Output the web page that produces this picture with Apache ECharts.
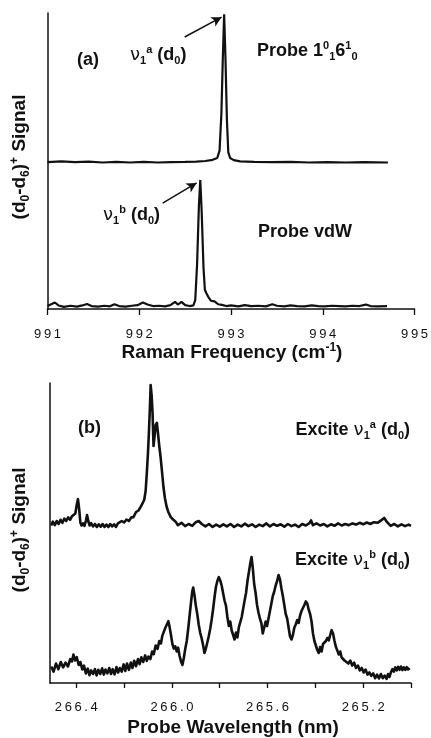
<!DOCTYPE html>
<html><head><meta charset="utf-8">
<script src="https://cdn.jsdelivr.net/npm/echarts@6/dist/echarts.min.js"></script>
<style>html,body{margin:0;padding:0;background:#fff}#c{width:431px;height:738px}</style>
</head><body><div id="c"></div>
<script>
// ---------- Panel (a): Raman frequency (cm-1) vs signal ----------
const ramanFreqA = [991.00,991.15,991.30,991.45,991.60,991.75,991.90,992.05,992.20,992.35,992.50,992.62,992.72,992.80,992.85,992.875,992.895,992.91,992.925,992.94,992.955,992.97,992.99,993.03,993.10,993.25,993.45,993.65,993.85,994.05,994.25,994.45,994.71];
const signalA    = [49.6,49.9,49.6,49.8,49.5,49.7,49.5,49.7,49.5,49.6,49.7,49.8,50.0,50.4,51.0,53.5,66,84,99.6,84,64,53,51,50.3,49.9,49.7,49.6,49.7,49.5,49.6,49.5,49.6,49.5];

const ramanFreqB = [991.00,991.04,991.08,991.12,991.18,991.25,991.32,991.38,991.43,991.48,991.55,991.62,991.68,991.73,991.78,991.85,991.92,991.98,992.04,992.09,992.15,992.22,992.28,992.34,992.39,992.42,992.46,992.50,992.55,992.59,992.61,992.63,992.65,992.665,992.68,992.70,992.715,992.73,992.75,992.78,992.82,992.86,992.90,992.95,993.00,993.08,993.15,993.22,993.30,993.38,993.45,993.50,993.58,993.65,993.72,993.80,993.88,993.95,994.02,994.10,994.18,994.25,994.32,994.40,994.47,994.52,994.60,994.70];
const signalB    = [1.0,1.6,2.2,1.2,0.7,1.1,0.8,1.2,1.7,1.0,0.8,1.1,0.9,1.6,1.0,0.8,1.1,1.3,2.2,1.5,1.0,1.1,0.9,1.3,2.4,1.5,2.4,1.3,1.0,1.2,3,15,35,43.6,33,14,6.5,5.4,4.2,2.8,2.6,1.6,1.4,1.0,1.2,0.9,1.3,1.0,1.1,0.9,1.6,1.1,0.9,1.2,1.0,0.9,1.2,1.0,0.9,1.1,1.0,0.9,1.1,1.0,1.5,1.0,0.9,1.0];

const ramanTicks = [991, 992, 993, 994, 995];

// ---------- Panel (b): probe wavelength (nm) vs signal ----------
const wavelengthA = [266.505,266.498,266.490,266.482,266.474,266.466,266.458,266.450,266.442,266.434,266.426,266.418,266.410,266.404,266.398,266.393,266.388,266.383,266.378,266.372,266.366,266.360,266.355,266.350,266.344,266.338,266.330,266.322,266.314,266.306,266.298,266.290,266.282,266.274,266.266,266.258,266.250,266.242,266.234,266.226,266.218,266.210,266.200,266.190,266.180,266.170,266.161,266.150,266.140,266.130,266.123,266.116,266.110,266.105,266.100,266.096,266.092,266.089,266.085,266.081,266.077,266.073,266.068,266.063,266.058,266.053,266.047,266.041,266.035,266.029,266.022,266.015,266.005,265.995,265.984,265.975,265.960,265.945,265.930,265.915,265.900,265.888,265.875,265.860,265.845,265.830,265.815,265.800,265.785,265.770,265.755,265.740,265.725,265.710,265.695,265.680,265.665,265.650,265.635,265.620,265.605,265.590,265.575,265.560,265.545,265.530,265.515,265.500,265.485,265.470,265.455,265.440,265.425,265.418,265.410,265.395,265.380,265.365,265.350,265.335,265.320,265.305,265.290,265.275,265.260,265.245,265.230,265.215,265.200,265.185,265.170,265.155,265.140,265.125,265.112,265.100,265.085,265.070,265.055,265.040,265.025,265.010,265.000];
const exciteA     = [52.5,53.8,52.6,54.0,53.0,54.4,53.4,54.8,54.0,55.2,54.4,55.6,55.0,56.5,59.5,61.3,58.0,53.5,52.5,53.2,52.4,54.0,56.0,54.0,52.5,53.3,52.2,53.0,52.0,52.9,52.1,53.0,52.0,52.8,52.0,53.0,52.2,52.9,52.0,53.2,52.6,54.0,53.5,54.5,54.0,55.2,55.3,57.0,57.5,58.8,59.3,61.0,64.0,70.0,77.0,84.0,92.0,99.3,96.0,90.0,79.0,82.0,86.0,86.7,83.0,79.0,75.0,70.0,65.0,61.5,58.7,57.0,55.3,54.5,53.7,52.6,53.4,52.3,53.0,52.4,53.6,54.0,53.0,52.2,53.0,52.0,52.8,52.1,52.9,52.2,53.0,52.0,52.8,52.2,53.1,52.3,52.9,52.0,52.8,52.3,53.2,52.2,53.0,52.4,52.9,52.1,53.0,52.3,52.8,52.0,53.0,52.5,53.3,54.2,52.6,53.2,52.5,53.0,52.2,52.9,52.4,53.2,52.5,53.0,52.6,53.2,52.8,53.4,52.9,53.5,53.0,53.6,53.4,54.2,55.0,53.6,52.4,53.0,52.2,52.9,52.3,52.8,52.4];

const wavelengthB = [266.505,266.495,266.485,266.475,266.465,266.455,266.445,266.435,266.425,266.418,266.412,266.405,266.398,266.390,266.383,266.375,266.368,266.360,266.352,266.345,266.338,266.330,266.322,266.315,266.308,266.300,266.292,266.285,266.278,266.270,266.262,266.255,266.248,266.240,266.232,266.225,266.218,266.210,266.202,266.195,266.188,266.180,266.172,266.165,266.158,266.150,266.142,266.135,266.128,266.120,266.112,266.105,266.098,266.090,266.083,266.076,266.068,266.060,266.053,266.046,266.040,266.033,266.027,266.020,266.015,266.010,266.004,265.998,265.992,265.986,265.980,265.974,265.968,265.962,265.956,265.950,265.944,265.938,265.932,265.926,265.920,265.915,265.911,265.906,265.900,265.894,265.888,265.882,265.876,265.870,265.864,265.858,265.852,265.846,265.840,265.834,265.828,265.822,265.816,265.810,265.804,265.798,265.792,265.786,265.780,265.774,265.768,265.762,265.756,265.750,265.744,265.738,265.732,265.726,265.720,265.714,265.708,265.702,265.696,265.690,265.684,265.678,265.672,265.667,265.662,265.656,265.650,265.644,265.638,265.632,265.626,265.620,265.614,265.608,265.602,265.596,265.590,265.584,265.578,265.572,265.566,265.560,265.554,265.548,265.542,265.536,265.530,265.524,265.518,265.512,265.506,265.500,265.494,265.488,265.482,265.476,265.470,265.464,265.458,265.452,265.446,265.440,265.434,265.428,265.422,265.416,265.410,265.404,265.398,265.392,265.386,265.380,265.374,265.368,265.362,265.356,265.350,265.344,265.338,265.332,265.326,265.320,265.314,265.308,265.302,265.296,265.290,265.284,265.278,265.270,265.262,265.254,265.246,265.238,265.230,265.222,265.214,265.206,265.198,265.190,265.182,265.174,265.166,265.158,265.150,265.142,265.134,265.126,265.118,265.110,265.102,265.096,265.090,265.084,265.078,265.072,265.066,265.060,265.054,265.048,265.042,265.036,265.030,265.024,265.018,265.012,265.006];
const exciteB     = [5.5,3.8,6.5,4.6,7.0,5.2,6.8,5.5,8.0,7.2,9.5,7.5,8.6,6.0,7.0,4.5,5.8,3.2,4.8,2.6,4.2,3.0,4.6,2.5,4.4,3.0,4.9,2.8,4.5,3.2,5.0,3.0,4.6,2.9,5.3,3.5,5.0,3.8,6.2,4.0,6.5,4.4,6.8,5.0,7.4,5.6,8.0,6.3,8.6,7.0,9.2,7.4,8.8,8.0,10.5,9.6,12.5,11.4,14.0,13.2,15.8,16.2,18.5,18.0,20.6,18.8,16.0,13.0,11.5,12.2,10.5,11.8,9.0,7.2,6.0,8.5,11.5,14.0,18.0,22.5,27.0,30.5,31.8,29.5,25.8,23.0,19.5,16.8,15.0,12.8,10.0,11.5,13.5,15.6,18.0,21.0,24.5,28.5,32.0,34.0,35.3,34.2,32.5,30.0,27.5,25.8,22.0,19.0,20.5,17.5,16.0,14.5,16.8,15.2,18.6,19.0,22.0,24.8,27.5,30.0,34.0,37.0,40.0,42.0,38.5,33.0,30.0,26.0,23.5,21.5,20.0,16.5,18.5,20.5,19.0,21.5,24.0,26.5,29.0,30.5,32.5,34.0,36.0,34.5,31.5,29.0,26.0,23.0,21.5,18.5,15.5,14.5,16.0,18.5,19.5,21.0,20.0,22.5,24.0,25.0,26.0,27.2,26.5,24.5,23.0,20.5,16.5,14.0,12.5,11.0,10.0,12.0,10.5,13.0,12.5,14.0,15.0,14.2,16.0,17.6,16.5,14.0,12.0,10.8,9.5,10.5,8.5,9.0,7.5,8.0,6.5,7.5,5.8,6.8,5.0,5.8,4.2,5.0,3.5,4.5,2.8,3.5,2.4,3.2,1.6,2.8,1.5,3.0,1.6,2.5,1.4,3.0,2.0,3.6,4.6,3.8,5.2,4.2,5.4,4.4,5.5,4.3,5.2,4.4,5.3,4.5,5.0];

const wavelengthTickLabels = ['266.4', '266.0', '265.6', '265.2'];

// ---------- build ----------
const zip = (xs, ys) => xs.map((x, i) => [x, ys[i]]);
const INK = '#111';
const FF = '"Liberation Sans", Arial, sans-serif';
const spaced = s => String(s).split('').join('\u2009');

const richBase = {
  b:   {fontFamily: FF, fontWeight: 'bold', fontSize: 18, lineHeight: 22, color: INK},
  nu:  {fontFamily: '"DejaVu Sans", sans-serif', fontWeight: 'normal', fontSize: 18, lineHeight: 22, color: INK},
  sub: {fontFamily: FF, fontWeight: 'bold', fontSize: 11, lineHeight: 11, verticalAlign: 'bottom', color: INK},
  sup: {fontFamily: FF, fontWeight: 'bold', fontSize: 11, lineHeight: 11, verticalAlign: 'top', color: INK},
  t:   {fontFamily: FF, fontWeight: 'bold', fontSize: 19, lineHeight: 23, color: INK},
  tsub:{fontFamily: FF, fontWeight: 'bold', fontSize: 12, lineHeight: 11, verticalAlign: 'bottom', color: INK},
  tsup:{fontFamily: FF, fontWeight: 'bold', fontSize: 12, lineHeight: 11, verticalAlign: 'top', color: INK}
};

function txt(x, y, text, align, rot) {
  return {
    type: 'text', x: x, y: y, rotation: rot || 0, silent: true,
    style: {text: text, rich: richBase, fill: INK,
      align: align || 'left', verticalAlign: 'middle',
      textAlign: align || 'left', textVerticalAlign: 'middle'}
  };
}

const arrowLine = (from, to) => ({
  silent: true, symbol: ['none', 'arrow'], symbolSize: [8, 10],
  label: {show: false}, lineStyle: {color: INK, width: 1.5, type: 'solid'},
  emphasis: {disabled: true},
  data: [[{coord: from}, {coord: to}]]
});

const chart = echarts.init(document.getElementById('c'), null, {renderer: 'canvas'});
const yAxisCommon = {
  type: 'value', min: 0, max: 100,
  axisLine: {show: true, lineStyle: {color: INK, width: 1.5}},
  axisTick: {show: false}, axisLabel: {show: false}, splitLine: {show: false}
};
chart.setOption({
  animation: false,
  backgroundColor: '#fff',
  grid: [
    {left: 47.5, top: 13, width: 367.5, height: 296},
    {left: 50, top: 383, width: 361, height: 300}
  ],
  xAxis: [
    {gridIndex: 0, type: 'value', min: ramanTicks[0], max: ramanTicks[ramanTicks.length - 1], interval: 1,
     axisLine: {onZero: false, lineStyle: {color: INK, width: 1.5}},
     axisTick: {show: true, length: 6, lineStyle: {color: INK, width: 1.3}},
     axisLabel: {margin: 19, color: '#111', fontFamily: FF, fontSize: 13, formatter: v => spaced(v)},
     splitLine: {show: false}},
    {gridIndex: 1, type: 'value', inverse: true, min: 265.0, max: 266.51, interval: 0.2,
     axisLine: {onZero: false, lineStyle: {color: INK, width: 1.5}},
     axisTick: {show: true, length: 5, lineStyle: {color: INK, width: 1.3}},
     axisLabel: {margin: 18, color: '#111', fontFamily: FF, fontSize: 13, showMaxLabel: false, showMinLabel: true,
       formatter: v => { const s = v.toFixed(1); return wavelengthTickLabels.indexOf(s) >= 0 ? spaced(s) : ''; }},
     splitLine: {show: false}}
  ],
  yAxis: [
    Object.assign({gridIndex: 0}, yAxisCommon),
    Object.assign({gridIndex: 1}, yAxisCommon)
  ],
  series: [
    {type: 'line', xAxisIndex: 0, yAxisIndex: 0, data: zip(ramanFreqA, signalA), showSymbol: false,
     lineStyle: {color: INK, width: 2.2}, markLine: arrowLine([992.495, 91.9], [992.897, 98.6])},
    {type: 'line', xAxisIndex: 0, yAxisIndex: 0, data: zip(ramanFreqB, signalB), showSymbol: false,
     lineStyle: {color: INK, width: 2.2}, markLine: arrowLine([992.255, 35.8], [992.625, 42.6])},
    {type: 'line', xAxisIndex: 1, yAxisIndex: 1, data: zip(wavelengthA, exciteA), showSymbol: false,
     lineStyle: {color: INK, width: 2.6, join: 'round'}},
    {type: 'line', xAxisIndex: 1, yAxisIndex: 1, data: zip(wavelengthB, exciteB), showSymbol: false,
     lineStyle: {color: INK, width: 2.6, join: 'round'}}
  ],
  graphic: [
    txt(77, 60, '{b|(a)}'),
    txt(130, 55, '{nu|ν}{sub|1}{sup|a}{b| (d}{sub|0}{b|)}'),
    txt(257, 51, '{b|Probe 1}{sup|0}{sub|1}{b|6}{sup|1}{sub|0}'),
    txt(103, 215, '{nu|ν}{sub|1}{sup|b}{b| (d}{sub|0}{b|)}'),
    txt(258, 232, '{b|Probe vdW}'),
    txt(232, 353, '{t|Raman Frequency (cm}{tsup|-1}{t|)}', 'center'),
    txt(20, 157, '{t|(d}{tsub|0}{t|-d}{tsub|6}{t|)}{tsup|+}{t| Signal}', 'center', Math.PI / 2),
    txt(78, 428, '{b|(b)}'),
    txt(410, 430, '{b|Excite }{nu|ν}{sub|1}{sup|a}{b| (d}{sub|0}{b|)}', 'right'),
    txt(410, 560, '{b|Excite }{nu|ν}{sub|1}{sup|b}{b| (d}{sub|0}{b|)}', 'right'),
    txt(233, 728, '{t|Probe Wavelength (nm)}', 'center'),
    txt(20, 530, '{t|(d}{tsub|0}{t|-d}{tsub|6}{t|)}{tsup|+}{t| Signal}', 'center', Math.PI / 2)
  ]
});
</script>
</body></html>
